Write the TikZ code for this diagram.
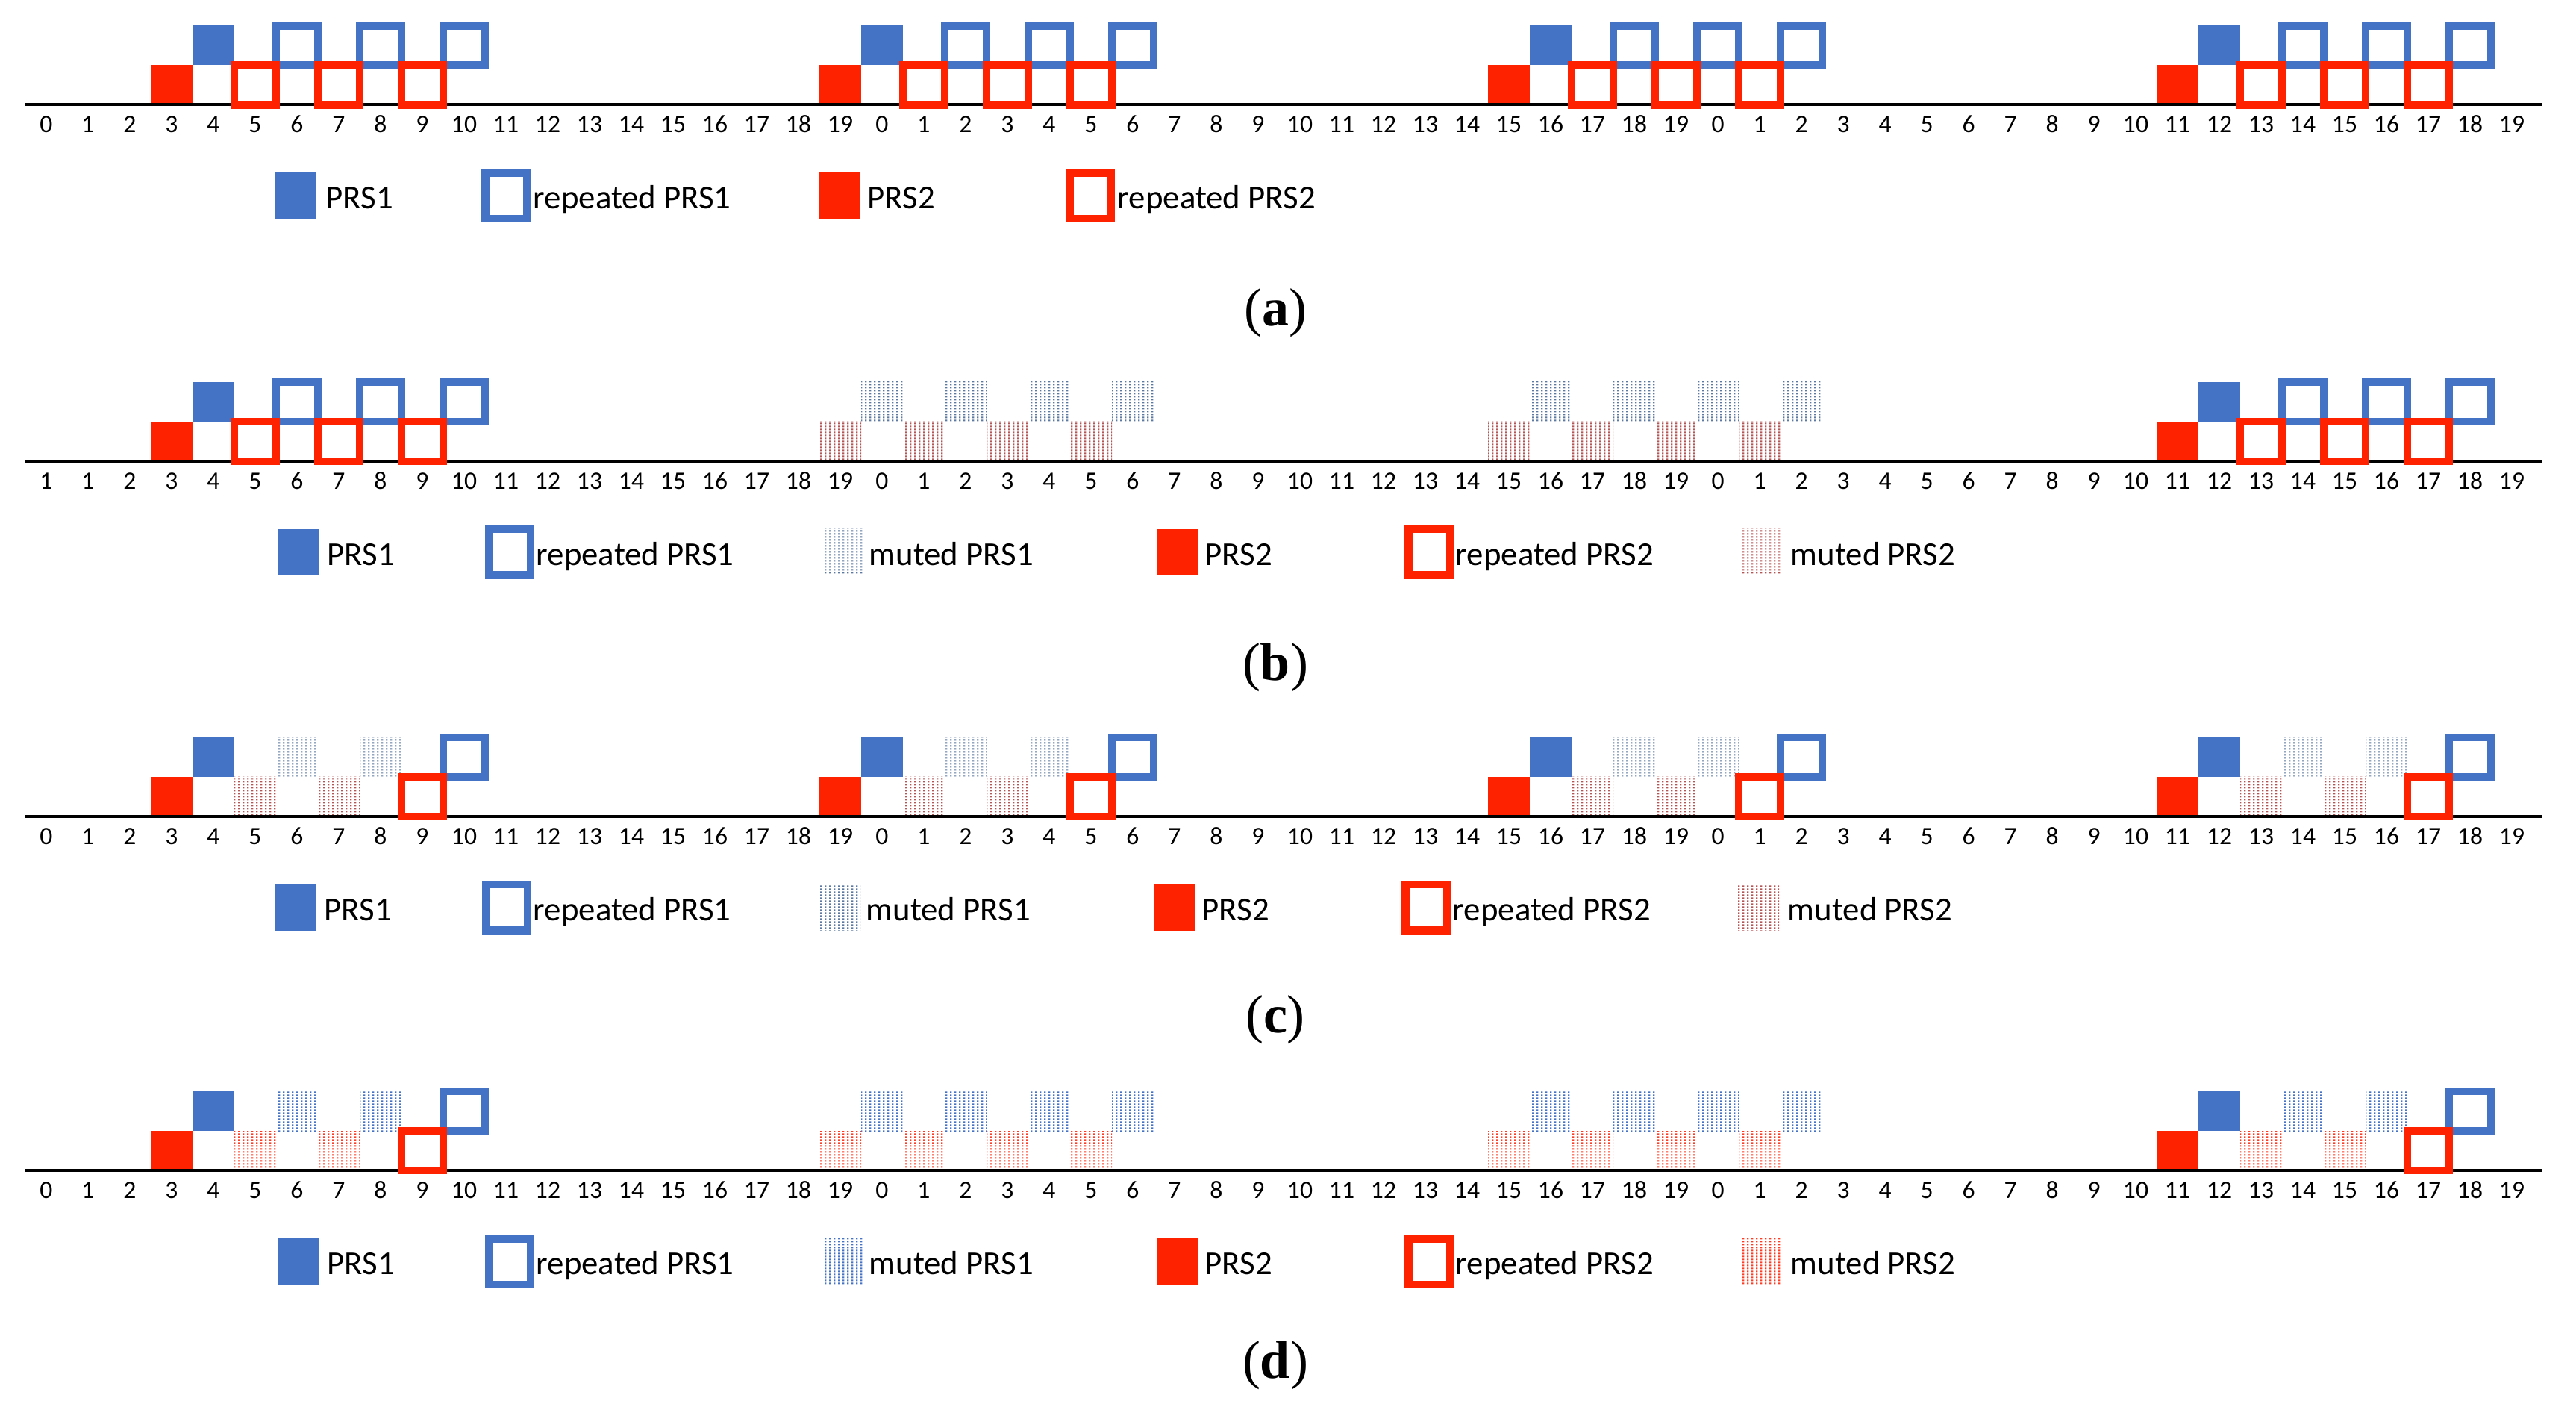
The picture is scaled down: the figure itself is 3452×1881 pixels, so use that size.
\documentclass[tikz,border=0pt]{standalone}
\usepackage{fontspec}
\setmainfont{Carlito}
\newfontfamily\capfont{Liberation Serif}
\usetikzlibrary{patterns.meta}
\definecolor{prsblue}{RGB}{68,114,196}
\definecolor{prsred}{RGB}{255,34,0}
\definecolor{mutebluegrey}{RGB}{90,120,160}
\definecolor{muteredgrey}{RGB}{180,85,85}
\definecolor{mutebluevivid}{RGB}{68,114,196}
\definecolor{muteredvivid}{RGB}{255,60,35}
\tikzdeclarepattern{
  name=mutedots,
  type=uncolored,
  bottom left={(0pt,0pt)},
  top right={(1.5pt,1pt)},
  tile size={(1.5pt,1pt)},
  code={\pgfpathrectangle{\pgfqpoint{0.3pt}{0.22pt}}{\pgfqpoint{0.65pt}{0.56pt}}\pgfusepath{fill}}
}
% cell in slot #2, row #3 (0 bottom, 1 top), axis y #4
\newcommand{\slotcell}[4]{\path[#1] ({34+56*(#2)},{#4-53*(#3)}) rectangle ({90+56*(#2)},{#4-53*(#3)-53});}
% tick labels: prefix, axis y, first label
\newcommand{\ticklabels}[3]{%
  \foreach \k in {0,...,59}{%
    \pgfmathtruncatemacro\lab{mod(\k,20)}%
    \ifnum\k=0 \def\lab{#3}\fi
    \node[digit] (#1\k) at ({62+56*\k},{#2+37.5}) {\lab};}}
% legend items: style, box x, axis y, text x, text, name
\newcommand{\legsolid}[6]{%
  \path[#1] (#2,{#3+91}) rectangle ({#2+55},{#3+153});
  \node[lgtext] (#6) at (#4,{#3+139.5}) {#5};}
\newcommand{\legframe}[6]{%
  \path[#1] ({#2+5.25},{#3+91.25}) rectangle ({#2+60.75},{#3+152.75});
  \node[lgtext] (#6) at (#4,{#3+139.5}) {#5};}
\begin{document}
\begin{tikzpicture}[x=0.25pt,y=-0.25pt,
  prs1/.style={fill=prsblue},
  prs2/.style={fill=prsred},
  rep1/.style={draw=prsblue,line width=2.625pt},
  rep2/.style={draw=prsred,line width=2.625pt},
  mbg/.style={pattern=mutedots,pattern color=mutebluegrey},
  mrg/.style={pattern=mutedots,pattern color=muteredgrey},
  mbv/.style={pattern=mutedots,pattern color=mutebluevivid},
  mrv/.style={pattern=mutedots,pattern color=muteredvivid},
  axisline/.style={draw=black,line width=1pt},
  digit/.style={inner sep=0pt,anchor=base,font=\fontsize{8.4pt}{9pt}\selectfont},
  lgtext/.style={inner sep=0pt,anchor=base west,font=\fontsize{11.2pt}{13pt}\selectfont},
  caption/.style={inner sep=0pt,anchor=base,font=\capfont\fontsize{18pt}{20pt}\selectfont}]
\useasboundingbox (0,0) rectangle (3452,1881);

% ---------------- panel (a) ----------------
\def\A{140.5}
\foreach \g in {3,19,35,51}{
  \slotcell{prs2}{\g}{0}{\A}
  \slotcell{prs1}{\g+1}{1}{\A}}
\coordinate (axa-l) at (33,\A); \coordinate (axa-r) at (3407,\A);
\draw[axisline] (axa-l) -- (axa-r);
\foreach \g in {3,19,35,51}{
  \foreach \d in {3,5,7}{\slotcell{rep1}{\g+\d}{1}{\A}}
  \foreach \d in {2,4,6}{\slotcell{rep2}{\g+\d}{0}{\A}}}
\ticklabels{ta}{\A}{0}
\legsolid{prs1}{369}{\A}{436}{PRS1}{la1}
\legframe{rep1}{645}{\A}{714}{repeated PRS1}{la2}
\legsolid{prs2}{1097}{\A}{1162}{PRS2}{la3}
\legframe{rep2}{1428}{\A}{1497}{repeated PRS2}{la4}
\node[caption] (capa) at (1709,436.7) {(\textbf{a})};

% ---------------- panel (b) ----------------
\def\A{618}
\foreach \g in {19,35}{
  \foreach \d in {0,2,4,6}{\slotcell{mrg}{\g+\d}{0}{\A}}
  \foreach \d in {1,3,5,7}{\slotcell{mbg}{\g+\d}{1}{\A}}}
\foreach \g in {3,51}{
  \slotcell{prs2}{\g}{0}{\A}
  \slotcell{prs1}{\g+1}{1}{\A}}
\coordinate (axb-l) at (33,\A); \coordinate (axb-r) at (3407,\A);
\draw[axisline] (axb-l) -- (axb-r);
\foreach \g in {3,51}{
  \foreach \d in {3,5,7}{\slotcell{rep1}{\g+\d}{1}{\A}}
  \foreach \d in {2,4,6}{\slotcell{rep2}{\g+\d}{0}{\A}}}
\ticklabels{tb}{\A}{1}
\legsolid{prs1}{373}{\A}{438}{PRS1}{lb1}
\legframe{rep1}{650}{\A}{718}{repeated PRS1}{lb2}
\legsolid{mbg}{1102}{\A}{1164}{muted PRS1}{lb3}
\legsolid{prs2}{1550}{\A}{1614}{PRS2}{lb4}
\legframe{rep2}{1882}{\A}{1950}{repeated PRS2}{lb5}
\legsolid{mrg}{2333}{\A}{2399}{muted PRS2}{lb6}
\node[caption] (capb) at (1709,912) {(\textbf{b})};

% ---------------- panel (c) ----------------
\def\A{1094}
\foreach \g in {3,19,35,51}{
  \foreach \d in {2,4}{\slotcell{mrg}{\g+\d}{0}{\A}}
  \foreach \d in {3,5}{\slotcell{mbg}{\g+\d}{1}{\A}}
  \slotcell{prs2}{\g}{0}{\A}
  \slotcell{prs1}{\g+1}{1}{\A}}
\coordinate (axc-l) at (33,\A); \coordinate (axc-r) at (3407,\A);
\draw[axisline] (axc-l) -- (axc-r);
\foreach \g in {3,19,35,51}{
  \slotcell{rep1}{\g+7}{1}{\A}
  \slotcell{rep2}{\g+6}{0}{\A}}
\ticklabels{tc}{\A}{0}
\legsolid{prs1}{369}{\A}{434}{PRS1}{lc1}
\legframe{rep1}{646}{\A}{714}{repeated PRS1}{lc2}
\legsolid{mbg}{1098}{\A}{1160}{muted PRS1}{lc3}
\legsolid{prs2}{1546}{\A}{1610}{PRS2}{lc4}
\legframe{rep2}{1878}{\A}{1946}{repeated PRS2}{lc5}
\legsolid{mrg}{2329}{\A}{2395}{muted PRS2}{lc6}
\node[caption] (capc) at (1709,1383) {(\textbf{c})};

% ---------------- panel (d) ----------------
\def\A{1568}
\foreach \g in {19,35}{
  \foreach \d in {0,2,4,6}{\slotcell{mrv}{\g+\d}{0}{\A}}
  \foreach \d in {1,3,5,7}{\slotcell{mbv}{\g+\d}{1}{\A}}}
\foreach \g in {3,51}{
  \foreach \d in {2,4}{\slotcell{mrv}{\g+\d}{0}{\A}}
  \foreach \d in {3,5}{\slotcell{mbv}{\g+\d}{1}{\A}}
  \slotcell{prs2}{\g}{0}{\A}
  \slotcell{prs1}{\g+1}{1}{\A}}
\coordinate (axd-l) at (33,\A); \coordinate (axd-r) at (3407,\A);
\draw[axisline] (axd-l) -- (axd-r);
\foreach \g in {3,51}{
  \slotcell{rep1}{\g+7}{1}{\A}
  \slotcell{rep2}{\g+6}{0}{\A}}
\ticklabels{td}{\A}{0}
\legsolid{prs1}{373}{\A}{438}{PRS1}{ld1}
\legframe{rep1}{650}{\A}{718}{repeated PRS1}{ld2}
\legsolid{mbv}{1102}{\A}{1164}{muted PRS1}{ld3}
\legsolid{prs2}{1550}{\A}{1614}{PRS2}{ld4}
\legframe{rep2}{1882}{\A}{1950}{repeated PRS2}{ld5}
\legsolid{mrv}{2333}{\A}{2399}{muted PRS2}{ld6}
\node[caption] (capd) at (1709,1846.7) {(\textbf{d})};
\end{tikzpicture}
\end{document}
